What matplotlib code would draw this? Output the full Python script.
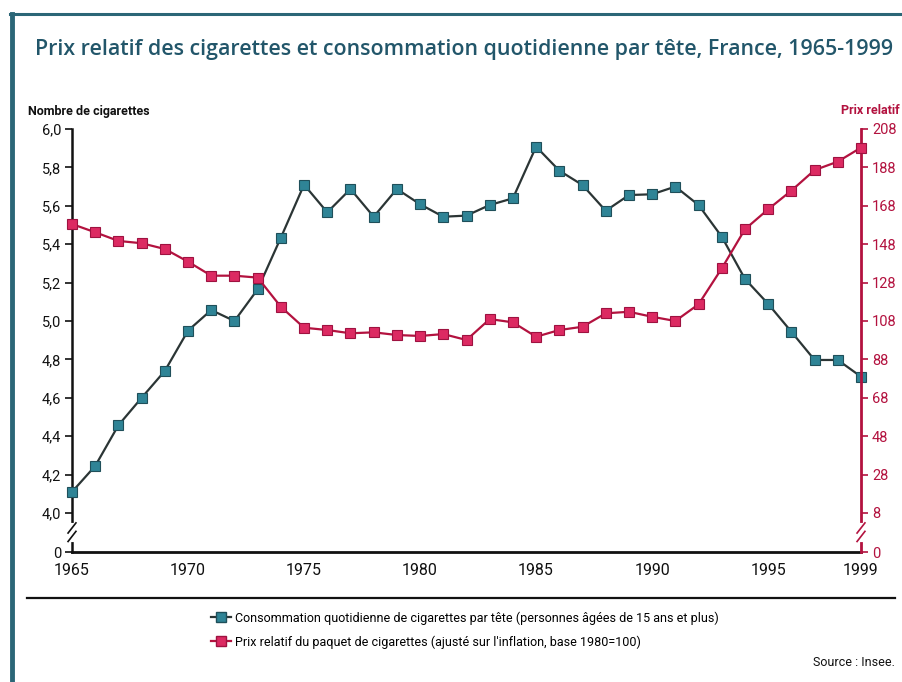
import matplotlib
matplotlib.use("Agg")
import matplotlib.pyplot as plt
from matplotlib.lines import Line2D
import matplotlib.font_manager as fm

years = list(range(1965, 2000))
consommation = [4.11, 4.245, 4.457, 4.60, 4.74, 4.95, 5.057, 5.00, 5.165, 5.434,
                5.71, 5.566, 5.6875, 5.543, 5.6875, 5.608, 5.543, 5.549, 5.604, 5.639,
                5.908, 5.783, 5.708, 5.574, 5.656, 5.66, 5.70, 5.604, 5.439, 5.219,
                5.089, 4.944, 4.797, 4.797, 4.71]
prix = [158.5, 154.2, 149.7, 148.5, 145.5, 138.9, 131.6, 131.6, 130.6, 115.4,
        104.5, 103.3, 101.6, 102.1, 100.7, 100.2, 101.2, 98.1, 109.0, 107.3,
        99.8, 103.3, 105.0, 112.0, 112.8, 110.2, 108.0, 116.7, 135.4, 155.8,
        166.2, 175.9, 186.6, 191.0, 198.3]
left_ticks = [4.0, 4.2, 4.4, 4.6, 4.8, 5.0, 5.2, 5.4, 5.6, 5.8, 6.0]
left_labels = ["4,0", "4,2", "4,4", "4,6", "4,8", "5,0", "5,2", "5,4", "5,6", "5,8", "6,0"]
right_ticks = [8, 28, 48, 68, 88, 108, 128, 148, 168, 188, 208]
x_ticks = [1965, 1970, 1975, 1980, 1985, 1990, 1995, 1999]

title = "Prix relatif des cigarettes et consommation quotidienne par tête, France, 1965-1999"
left_title = "Nombre de cigarettes"
right_title = "Prix relatif"
legend_labels = ["Consommation quotidienne de cigarettes par tête (personnes âgées de 15 ans et plus)",
                 "Prix relatif du paquet de cigarettes (ajusté sur l'inflation, base 1980=100)"]
source = "Source : Insee."

names = {f.name for f in fm.fontManager.ttflist}
narrow = ["Liberation Sans Narrow", "DejaVu Sans"] if "Liberation Sans Narrow" in names else ["Roboto", "DejaVu Sans"]

TEAL_M = "#2f8496"
TEAL_E = "#1f4f5a"
DARK_LINE = "#2b3535"
PINK_M = "#dc2a62"
PINK_E = "#9e1240"
CRIMSON = "#b3123f"
FRAME = "#2b6677"
TITLE_C = "#22566a"

W, H = 903, 682
fig = plt.figure(figsize=(W / 100, H / 100), dpi=100)

def fx(px):
    return px / W

def fy(py):
    return 1 - py / H

y0_left = 4.0 - 39 / 192.0
ax = fig.add_axes([fx(72), fy(552), fx(861) - fx(72), fy(129) - fy(552)])
ax.set_xlim(1965, 1999)
ax.set_ylim(y0_left, 6.0)
ax.plot(years, consommation, color=DARK_LINE, lw=1.6, marker="s", ms=7,
        mfc=TEAL_M, mec=TEAL_E, mew=0.8, zorder=3, clip_on=False)

ax2 = ax.twinx()
ax2.set_ylim(8 + (y0_left - 4.0) * 100, 208)
ax2.plot(years, prix, color=CRIMSON, lw=1.6, marker="s", ms=7,
         mfc=PINK_M, mec=PINK_E, mew=0.8, zorder=3, clip_on=False)

ax.spines["top"].set_visible(False)
ax2.spines["top"].set_visible(False)
ax.spines["right"].set_visible(False)
ax2.spines["left"].set_visible(False)
ax2.spines["bottom"].set_visible(False)
ax2.spines["right"].set_color(CRIMSON)
ax2.spines["right"].set_linewidth(2.0)
ax.spines["left"].set_linewidth(1.8)
ax.spines["bottom"].set_linewidth(2.0)
ax.spines["left"].set_color("#111111")
ax.spines["bottom"].set_color("#111111")

ax.set_yticks([y0_left] + left_ticks)
ax.set_yticklabels(["0"] + left_labels, family=narrow, fontsize=10.5)
ax.tick_params(axis="y", direction="out", length=5, width=1.2, pad=3, colors="#111111")
ax.set_xticks(x_ticks)
ax.set_xticklabels([str(v) for v in x_ticks], family=narrow, fontsize=11.5)
ax.tick_params(axis="x", length=0, pad=8, colors="#111111")

r_bottom = 8 + (y0_left - 4.0) * 100
ax2.set_yticks([r_bottom] + right_ticks)
ax2.set_yticklabels(["0"] + [str(v) for v in right_ticks], family=narrow, fontsize=10.5)
ax2.tick_params(axis="y", direction="out", length=5, width=1.2, pad=3, colors=CRIMSON)

# axis break marks
for a, col, xpos in [(ax, "#111111", 0.0), (ax2, CRIMSON, 1.0)]:
    ybrk = (3.9 - y0_left) / (6.0 - y0_left)
    a.plot([xpos, xpos], [ybrk - 0.018, ybrk + 0.018], transform=a.transAxes,
           color="white", lw=3, clip_on=False, zorder=5)
    for dy in (-0.01, 0.01):
        a.plot([xpos - 0.005, xpos + 0.005], [ybrk + dy - 0.012, ybrk + dy + 0.012],
               transform=a.transAxes, color=col, lw=1.2, clip_on=False, zorder=6)

# axis titles
fig.text(fx(28), fy(111), left_title, family=narrow, fontsize=9, fontweight="bold",
         color="#111111", ha="left", va="center")
fig.text(fx(900), fy(111), right_title, family=narrow, fontsize=9, fontweight="bold",
         color=CRIMSON, ha="right", va="center")

# title
fig.text(fx(35), fy(50), title, family=["Open Sans", "DejaVu Sans"], fontsize=15.4,
         fontweight="semibold", color=TITLE_C, ha="left", va="center")

# frame
fig.add_artist(Line2D([fx(10), fx(903)], [fy(14), fy(14)], color=FRAME, lw=2.2))
fig.add_artist(Line2D([fx(12), fx(12)], [fy(14), fy(682)], color=FRAME, lw=3.5))
fig.add_artist(Line2D([fx(27), fx(895)], [fy(598), fy(598)], color="#111111", lw=1.6))

# legend
h1 = Line2D([], [], color=DARK_LINE, lw=1.6, marker="s", ms=7, mfc=TEAL_M, mec=TEAL_E)
h2 = Line2D([], [], color=CRIMSON, lw=1.6, marker="s", ms=7, mfc=PINK_M, mec=PINK_E)
fig.legend([h1, h2], legend_labels, loc="upper left", bbox_to_anchor=(fx(200), fy(600)),
           frameon=False, handlelength=1.6, handletextpad=0.3, labelspacing=0.85,
           prop={"family": narrow, "size": 9})

fig.text(fx(895), fy(662), source, family=narrow, fontsize=9, color="#111111",
         ha="right", va="center")

fig.savefig("out.png", dpi=100, facecolor="white")
